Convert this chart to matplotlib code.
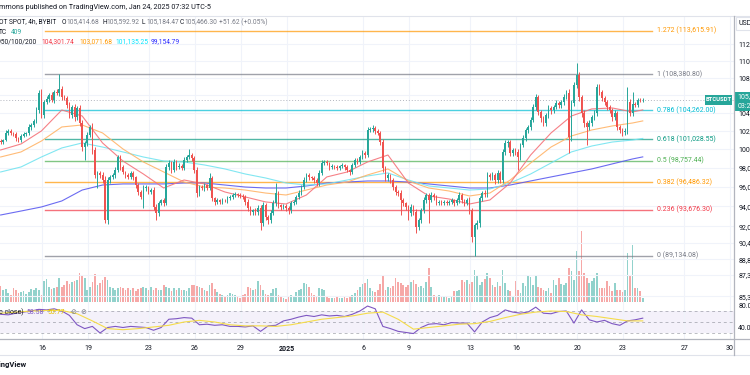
import numpy as np
import pandas as pd
import matplotlib
matplotlib.use("Agg")
import matplotlib.pyplot as plt
import matplotlib.dates as mdates
from matplotlib.ticker import NullLocator, NullFormatter
from matplotlib.patches import Rectangle

plt.rcParams["font.family"] = ["Roboto", "DejaVu Sans"]

# ---------------- data (BTCUSDT spot, 4h, Bybit) ----------------
first_open = 100.90  # thousand USD
close_k = [
    100.75, 100.97, 101.74, 101.96, 101.74, 101.63, 101.19, 100.97, 101.41, 101.63,
    101.74, 102.40, 102.62, 103.06, 104.29, 106.22, 103.73, 105.19, 105.53, 105.99,
    105.42, 106.33, 106.22, 106.68, 105.76, 105.65, 104.86, 103.73, 104.63, 103.51,
    104.52, 102.84, 100.21, 100.65, 101.52, 102.40, 99.89, 97.24, 97.45, 97.24,
    96.71, 92.63, 96.71, 97.03, 97.24, 97.76, 99.14, 98.08, 97.55, 97.24,
    97.03, 97.45, 97.03, 96.19, 95.47, 94.96, 95.88, 95.98, 95.47, 95.67,
    93.94, 93.33, 94.34, 94.65, 94.34, 98.08, 98.50, 97.76, 98.61, 98.08,
    98.20, 98.00, 98.82, 99.14, 99.35, 99.03, 97.76, 95.36, 95.98, 95.88,
    96.19, 95.88, 96.92, 94.85, 94.45, 94.65, 94.45, 94.65, 94.60, 94.85,
    94.96, 95.16, 95.26, 95.16, 95.10, 94.96, 94.45, 93.84, 93.43, 93.63,
    93.43, 93.84, 92.33, 94.14, 92.93, 92.63, 93.33, 94.34, 95.36, 94.14,
    93.94, 94.05, 93.84, 93.63, 94.34, 94.45, 94.96, 95.36, 95.98, 96.71,
    97.24, 97.03, 96.92, 96.71, 96.40, 97.45, 98.50, 98.61, 98.50, 98.08,
    98.18, 98.08, 97.97, 98.18, 98.29, 98.08, 97.76, 97.55, 98.29, 98.82,
    98.61, 99.14, 99.57, 99.35, 102.07, 102.15, 102.29, 101.96, 101.74, 100.75,
    97.97, 96.92, 97.24, 96.71, 95.98, 95.47, 95.40, 94.65, 94.34, 93.94,
    93.33, 93.94, 93.43, 91.94, 92.63, 93.63, 94.65, 95.16, 94.65, 95.16,
    94.96, 94.34, 94.45, 94.34, 94.45, 94.34, 94.45, 94.65, 94.34, 94.65,
    95.16, 94.65, 94.34, 94.65, 93.63, 90.95, 92.13, 92.33, 94.85, 95.36,
    95.30, 97.24, 97.03, 97.24, 96.71, 97.45, 96.71, 99.68, 100.65, 100.75,
    99.57, 99.89, 99.68, 99.14, 100.43, 101.19, 102.07, 102.40, 103.17, 104.63,
    105.76, 104.07, 103.39, 102.84, 103.73, 104.52, 104.29, 104.63, 105.08, 104.86,
    105.19, 105.76, 106.22, 101.30, 105.08, 107.14, 108.30, 105.76, 103.95, 102.84,
    102.40, 102.84, 103.51, 103.95, 106.91, 106.33, 105.65, 105.19, 104.63, 104.29,
    103.51, 103.95, 102.40, 102.07, 101.85, 101.96, 105.19, 103.95, 105.00, 104.90,
    105.42, 105.415, 105.466,
]
hi_wick = [
    0.2, 0.15, 0.3, 0.25, 0.2, 0.15, 0.2, 0.1, 0.25, 0.2,
    0.15, 0.3, 0.2, 0.25, 0.3, 0.3, 0.45, 0.2, 0.3, 0.25,
    0.35, 0.2, 0.3, 1.70, 0.3, 0.25, 0.2, 0.3, 0.25, 0.3,
    0.2, 0.35, 0.3, 0.25, 0.3, 0.2, 0.4, 0.3, 0.25, 0.2,
    0.3, 0.4, 0.35, 0.25, 0.2, 0.3, 0.21, 0.25, 0.2, 0.15,
    0.2, 0.25, 0.2, 0.15, 0.2, 0.25, 0.3, 0.2, 0.15, 0.25,
    0.3, 0.25, 0.2, 0.15, 0.2, 0.35, 0.3, 0.25, 0.3, 0.2,
    0.25, 0.2, 0.3, 0.25, 0.65, 0.2, 0.25, 0.3, 0.2, 0.25,
    0.2, 0.15, 0.53, 0.2, 0.15, 0.2, 0.15, 0.2, 0.15, 0.2,
    0.15, 0.2, 0.25, 0.15, 0.2, 0.15, 0.2, 0.25, 0.2, 0.15,
    0.2, 0.25, 0.3, 0.35, 0.2, 0.25, 0.3, 0.35, 1.04, 0.2,
    0.15, 0.2, 0.15, 0.2, 0.25, 0.2, 0.25, 0.3, 0.25, 0.3,
    0.25, 0.2, 0.15, 0.2, 0.25, 0.3, 0.35, 0.25, 0.2, 0.15,
    0.2, 0.15, 0.2, 0.15, 0.2, 0.15, 0.2, 0.15, 0.25, 0.2,
    0.2, 0.25, 0.3, 0.2, 0.3, 0.25, 0.33, 0.2, 0.25, 0.2,
    0.3, 0.25, 0.2, 0.15, 0.2, 0.25, 0.2, 0.25, 0.2, 0.15,
    0.2, 0.25, 0.2, 0.3, 0.2, 0.25, 0.3, 0.25, 0.2, 0.3,
    0.2, 0.15, 0.2, 0.15, 0.2, 0.15, 0.2, 0.25, 0.15, 0.2,
    0.3, 0.2, 0.15, 0.2, 0.3, 0.2, 0.25, 0.3, 0.25, 0.2,
    0.3, 0.35, 0.25, 0.3, 0.2, 0.3, 0.2, 0.35, 0.3, 0.25,
    0.2, 0.25, 0.2, 0.3, 0.25, 0.3, 0.2, 0.25, 0.3, 0.35,
    0.3, 0.2, 0.25, 0.2, 0.25, 0.3, 0.2, 0.25, 0.3, 0.2,
    0.25, 0.3, 0.35, 0.4, 0.3, 0.4, 1.46, 0.3, 0.25, 0.3,
    0.2, 0.3, 0.25, 0.3, 0.35, 0.3, 0.25, 0.2, 0.25, 0.2,
    0.25, 0.3, 0.2, 0.25, 0.2, 0.3, 1.72, 0.3, 1.33, 0.2,
    0.25, 0.18, 0.127,
]
lo_wick = [
    0.2, 0.25, 0.15, 0.2, 0.25, 0.2, 0.3, 0.25, 0.2, 0.15,
    0.2, 0.25, 0.3, 0.2, 0.25, 0.3, 0.35, 0.3, 0.25, 0.3,
    0.25, 0.3, 0.2, 0.3, 0.35, 0.25, 0.3, 0.35, 0.3, 0.4,
    0.3, 0.35, 0.4, 1.39, 0.3, 0.25, 0.4, 0.35, 1.34, 0.3,
    0.3, 0.30, 0.35, 0.3, 0.25, 0.3, 0.25, 0.3, 0.25, 0.3,
    0.25, 0.2, 0.3, 0.35, 0.3, 0.25, 1.16, 0.3, 0.25, 0.2,
    0.35, 0.70, 0.3, 0.25, 0.3, 0.25, 0.3, 0.35, 0.25, 0.3,
    0.25, 0.2, 0.25, 0.2, 0.25, 0.3, 0.35, 0.4, 0.3, 0.25,
    0.3, 0.25, 0.2, 0.35, 0.3, 0.25, 0.2, 0.25, 0.2, 0.25,
    0.2, 0.25, 0.2, 0.25, 0.2, 0.25, 0.3, 0.35, 0.3, 0.25,
    0.3, 0.25, 0.69, 0.3, 0.35, 0.4, 0.3, 0.25, 0.3, 0.35,
    0.3, 0.25, 0.3, 0.35, 0.25, 0.2, 0.25, 0.2, 0.25, 0.2,
    0.25, 0.3, 0.25, 0.3, 0.35, 0.3, 0.25, 0.2, 0.25, 0.3,
    0.25, 0.2, 0.25, 0.2, 0.25, 0.3, 0.25, 0.3, 0.25, 0.2,
    0.25, 0.2, 0.25, 0.3, 0.25, 0.2, 0.25, 0.3, 0.25, 0.35,
    0.4, 0.35, 0.3, 0.35, 0.3, 0.35, 0.3, 1.5, 0.35, 0.3,
    0.7, 0.35, 0.3, 0.6, 0.35, 0.3, 0.25, 0.3, 2.32, 0.25,
    0.3, 0.25, 0.2, 0.25, 0.2, 0.25, 0.2, 0.25, 0.3, 0.25,
    0.3, 0.35, 0.3, 0.25, 0.4, 0.5, 1.816, 0.4, 0.35, 0.3,
    0.35, 0.3, 0.35, 0.3, 0.4, 0.3, 0.35, 0.3, 0.35, 0.4,
    0.3, 0.35, 0.3, 1.38, 0.3, 0.25, 0.3, 0.35, 0.3, 0.25,
    0.3, 0.35, 0.4, 0.3, 0.35, 0.3, 0.4, 0.3, 0.25, 0.3,
    0.35, 0.3, 0.25, 1.73, 0.4, 0.35, 0.3, 0.45, 0.5, 0.4,
    1.97, 0.35, 0.3, 0.35, 0.3, 0.35, 0.3, 0.35, 0.3, 0.35,
    0.4, 0.35, 0.3, 0.35, 0.4, 0.3, 0.35, 0.3, 0.35, 0.25,
    0.3, 0.25, 0.23,
]
volume_h = [  # hundreds of BTC
    16, 12, 13, 9, 7, 14, 12, 9, 10, 11,
    8, 10, 13, 12, 14, 12, 7, 21, 23, 15,
    13, 14, 15, 24, 15, 17, 21, 18, 20, 21,
    22, 29, 26, 24, 12, 15, 20, 28, 17, 19,
    22, 25, 22, 15, 14, 12, 14, 15, 14, 12,
    14, 12, 14, 11, 13, 14, 15, 14, 12, 15,
    12, 14, 12, 12, 17, 15, 14, 11, 14, 12,
    14, 12, 12, 11, 14, 17, 17, 16, 15, 14,
    12, 11, 17, 19, 13, 10, 8, 7, 6, 7,
    9, 8, 7, 6, 4, 7, 8, 15, 14, 12,
    13, 21, 17, 12, 8, 7, 9, 13, 14, 7,
    6, 4, 3, 6, 7, 6, 10, 12, 13, 19,
    18, 15, 9, 7, 6, 14, 13, 12, 6, 4,
    4, 4, 5, 4, 4, 5, 4, 5, 7, 9,
    12, 15, 18, 19, 23, 14, 11, 10, 12, 18,
    27, 12, 15, 14, 16, 24, 20, 19, 17, 15,
    17, 20, 22, 18, 15, 16, 14, 20, 34, 15,
    7, 6, 7, 6, 6, 5, 4, 6, 11, 11,
    12, 22, 20, 22, 18, 20, 32, 26, 17, 20,
    23, 29, 24, 17, 15, 20, 16, 32, 19, 12,
    11, 6, 21, 12, 9, 19, 16, 27, 25, 17,
    27, 15, 14, 12, 11, 14, 9, 22, 17, 24,
    18, 17, 19, 34, 31, 22, 51, 31, 71, 29,
    24, 19, 21, 24, 29, 14, 14, 14, 21, 16,
    11, 19, 12, 12, 10, 12, 49, 27, 57, 14,
    14, 11, 4.09,
]
# moving averages, one reading every 8 candles plus the last candle
ma20 = [99.89, 100.54, 101.96, 104.29, 103.62, 100.65, 98.71, 97.34, 95.88, 96.71,
        96.30, 95.47, 94.96, 94.45, 94.24, 95.16, 97.03, 97.55, 98.61, 99.35,
        96.40, 95.06, 94.75, 94.24, 94.65, 96.40, 99.35, 101.74, 103.62, 104.41,
        104.52, 104.07, 104.30]
ma50 = [99.14, 99.68, 100.86, 102.40, 102.62, 101.74, 100.00, 98.61, 97.55, 96.50,
        95.98, 95.88, 95.67, 95.36, 95.16, 95.67, 96.19, 96.50, 97.24, 97.87,
        96.61, 95.88, 95.57, 95.06, 95.36, 96.71, 98.50, 100.21, 101.41, 102.07,
        102.51, 102.84, 103.07]
ma100 = [97.55, 98.08, 99.14, 100.11, 100.65, 100.21, 99.68, 99.14, 98.71, 98.61,
         98.29, 97.87, 97.34, 96.92, 96.40, 96.19, 96.30, 96.71, 97.13, 97.45,
         96.71, 96.09, 95.88, 95.67, 95.78, 96.40, 97.34, 98.50, 99.68, 100.32,
         100.75, 100.97, 101.14]
ma200 = [93.13, 93.53, 93.94, 94.55, 95.67, 96.19, 96.30, 96.30, 96.30, 96.40,
         96.40, 96.19, 95.98, 95.88, 95.88, 96.09, 96.40, 96.50, 96.61, 96.61,
         96.50, 96.30, 96.09, 95.88, 95.88, 96.19, 96.61, 97.03, 97.45, 97.87,
         98.40, 98.93, 99.15]
# RSI every 3 candles, its moving average every 6 candles
rsi = [64, 63, 66, 68, 70, 73, 72, 74, 70, 62,
       45, 38, 42, 30, 40, 42, 40, 42, 41, 40,
       35, 40, 55, 56, 58, 57, 45, 46, 44, 45,
       42, 42, 41, 43, 33, 43, 44, 52, 55, 59,
       62, 60, 63, 61, 62, 60, 64, 70, 79, 74,
       42, 38, 33, 31, 29, 40, 46, 47, 45, 49,
       48, 48, 32, 50, 58, 62, 72, 68, 66, 68,
       77, 66, 65, 69, 70, 48, 72, 54, 50, 53,
       47, 44, 52, 54, 57]
rsi_ma = [66, 68, 70, 71, 71, 65, 52, 38, 36, 38,
          41, 44, 50, 53, 50, 45, 43, 43, 42, 45,
          50, 55, 58, 61, 66, 68, 55, 37, 40, 43,
          46, 47, 51, 58, 64, 68, 70, 69, 63, 60,
          56, 52, 52]

fib_levels = ["1.272", "1", "0.786", "0.618", "0.5", "0.382", "0.236", "0"]
fib_prices = [113615.91, 108380.80, 104262.00, 101028.55, 98757.44, 96486.32, 93676.30, 89134.08]
fib_colors = ["#ff9800", "#787b86", "#00bcd4", "#089981", "#4caf50", "#ff9800", "#f23645", "#787b86"]

price_ticks = [112000, 110000, 108000, 106000, 104000, 102000, 100000, 98000,
               96000, 94000, 92000, 90400, 88800, 87300, 85300]
date_ticks = ["2024-12-16", "2024-12-19", "2024-12-23", "2024-12-26", "2024-12-29",
              "2025-01-01", "2025-01-06", "2025-01-09", "2025-01-13", "2025-01-16",
              "2025-01-20", "2025-01-23", "2025-01-27", "2025-01-30"]
date_labels = ["16", "19", "23", "26", "29", "2025", "6", "9", "13", "16", "20", "23", "27", "30"]

# ---------------- prep ----------------
times = pd.date_range("2024-12-13 07:00", periods=len(close_k), freq="4h")
t = mdates.date2num(times)
closes = np.array(close_k) * 1000
opens = np.r_[first_open, close_k[:-1]] * 1000
highs = np.maximum(opens, closes) + np.array(hi_wick) * 1000
lows = np.minimum(opens, closes) - np.array(lo_wick) * 1000
up = closes >= opens

UP, DOWN = "#26a69a", "#ef5350"
TXT, GREY = "#131722", "#787b86"

W, H = 750, 375
fig = plt.figure(figsize=(W / 100, H / 100), dpi=100)


def box(x0, y0, x1, y1):
    return [x0 / W, 1 - y1 / H, (x1 - x0) / W, (y1 - y0) / H]


def ftext(x, y, s, **kw):
    kw.setdefault("fontsize", 5)
    kw.setdefault("va", "center")
    kw.setdefault("color", TXT)
    return fig.text(x / W, 1 - y / H, s, **kw)


def frect(x0, y0, x1, y1, **kw):
    fig.add_artist(Rectangle((x0 / W, 1 - y1 / H), (x1 - x0) / W, (y1 - y0) / H,
                             transform=fig.transFigure, **kw))


def fline(xs, ys, **kw):
    fig.add_artist(plt.Line2D([x / W for x in xs], [1 - y / H for y in ys],
                              transform=fig.transFigure, **kw))


d16 = mdates.date2num(pd.Timestamp("2024-12-16"))
xlim = (d16 - 2.75, d16 + 45.26)

# volume pane (behind the price pane)
axv = fig.add_axes(box(0, 16, 734, 305))
cols_v = np.where(up, UP, DOWN)
axv.bar(t, np.array(volume_h) * 100, width=0.11, color=cols_v, alpha=0.5, linewidth=0)
axv.set_ylim(-300, 28600)
axv.set_xlim(*xlim)
axv.axis("off")

# price pane
ax = fig.add_axes(box(0, 16, 734, 305))
ax.patch.set_visible(False)
ax.set_yscale("log")
ax.set_ylim(84520, 115410)
ax.set_xlim(*xlim)

cols = np.where(up, UP, DOWN)
ax.vlines(t, lows, highs, colors=cols, linewidth=0.7, zorder=3)
body = np.maximum(np.abs(closes - opens), 40)
ax.bar(t, body, bottom=np.minimum(opens, closes), width=0.105, color=cols,
       linewidth=0, zorder=4)

ma_t = np.r_[t[::8], t[-1]]
for vals, c in [(ma200, "#5b5bf0"), (ma100, "#74e4f0"), (ma50, "#ffb468"), (ma20, "#f5737a")]:
    ax.plot(ma_t, np.array(vals) * 1000, color=c, linewidth=0.8, zorder=2, alpha=0.9)

for lvl, p, c in zip(fib_levels, fib_prices, fib_colors):
    ax.axhline(p, xmin=45 / 734, xmax=652 / 734, color=c, linewidth=1, alpha=0.7, zorder=1)
    ax.text(657 / 734, p, f"{lvl} ({p:,.2f})", transform=ax.get_yaxis_transform(),
            color=c, fontsize=5, va="center", ha="left")

ax.axhline(closes[-1], color="#b2b5be", linewidth=0.7, linestyle=(0, (1, 2)), zorder=1)

ax.yaxis.tick_right()
ax.set_yticks(price_ticks)
ax.set_yticklabels([f"{v:,.2f}" for v in price_ticks])
ax.yaxis.set_minor_locator(NullLocator())
ax.yaxis.set_minor_formatter(NullFormatter())
ax.tick_params(axis="y", length=0, pad=3, labelsize=5, colors=TXT)
ax.tick_params(axis="x", length=0, labelbottom=False)
ax.grid(True, color="#f0f3fa", linewidth=0.8, zorder=0)
ax.set_axisbelow(True)
for s in ax.spines.values():
    s.set_visible(False)

# RSI pane
axr = fig.add_axes(box(0, 305, 734, 339), sharex=ax)
axr.set_ylim(19.1, 80.9)
axr.axhspan(30, 70, color="#7e57c2", alpha=0.08, linewidth=0)
for lv in (70, 50, 30):
    axr.axhline(lv, color=GREY, linewidth=0.7, linestyle=(0, (3, 3)), alpha=0.5)
axr.plot(t[::3], rsi, color="#7e57c2", linewidth=0.8)
axr.plot(t[::6], rsi_ma, color="#f5dc4a", linewidth=0.8)
axr.yaxis.tick_right()
axr.set_yticks([80, 40])
axr.set_yticklabels(["80.00", "40.00"])
axr.set_xticks(mdates.date2num(pd.to_datetime(date_ticks)))
axr.set_xticklabels(date_labels)
for lab in axr.get_xticklabels():
    if lab.get_text() == "2025":
        lab.set_fontweight("bold")
axr.tick_params(axis="y", length=0, pad=3, labelsize=5, colors=TXT)
axr.tick_params(axis="x", length=0, pad=4, labelsize=5, colors=TXT)
axr.grid(True, axis="x", color="#f0f3fa", linewidth=0.8)
axr.set_xlim(*xlim)
for s in axr.spines.values():
    s.set_visible(False)

# frame lines
fline([0, 750], [15.5, 15.5], color="#e0e3eb", linewidth=0.8)
fline([0, 750], [339, 339], color="#b2b5be", linewidth=0.9)
fline([0, 750], [355, 355], color="#e0e3eb", linewidth=0.8)
fline([734, 734], [15.5, 355], color="#b2b5be", linewidth=0.9)

# price tags
frect(705, 95, 732, 104.5, color=UP, linewidth=0)
ftext(718.5, 99.8, "BTCUSDT", color="white", fontsize=4.2, ha="center", fontweight="bold")
frect(735, 92, 752, 111, color=UP, linewidth=0)
ftext(737.5, 97, f"{closes[-1]:,.2f}", color="white", fontsize=5)
ftext(737.5, 106, "03:27:36", color="white", fontsize=5)
frect(736, 17.5, 752, 29.5, facecolor="white", edgecolor="#e0e3eb", linewidth=0.8)
ftext(738.5, 23.5, "USD", fontsize=5)

# header
ftext(-1, 7.5, "mmons published on TradingView.com, Jan 24, 2025 07:32 UTC-5", fontsize=5.2)
ftext(-1, 22, "OT SPOT, 4h, BYBIT", fontsize=4.8)
for x, lab, val in [(62, "O", "105,414.68"), (102, "H", "105,592.92"),
                    (142, "L", "105,184.47"), (180, "C", "105,466.30")]:
    ftext(x, 22, lab, fontsize=4.8)
    ftext(x + 4.3, 22, val, fontsize=4.8, color=GREY)
ftext(219, 22, "+51.62 (+0.05%)", fontsize=4.8, color=GREY)
ftext(-1, 32, "TC", fontsize=4.8)
ftext(11, 32, "409", fontsize=4.8, color=UP)
ftext(-1, 42, "/50/100/200", fontsize=4.8)
for x, s, c in [(41, "104,301.74", "#f23645"), (79, "103,071.68", "#ff9800"),
                (115, "101,135.25", "#00e5ff"), (151, "99,154.79", "#2a2aff")]:
    ftext(x, 42, s, fontsize=4.8, color=c)

# RSI legend
ftext(-1, 312, "c close)", fontsize=5)
ftext(27, 312, "58.58", fontsize=5, color="#7e57c2")
ftext(47, 312, "50.77", fontsize=5, color="#e6c200")
ftext(70, 312, "\u2298", fontsize=5, color=GREY)
ftext(80, 312, "\u2298", fontsize=5, color=GREY)

# footer
ftext(27, 365, "TradingView", fontsize=5.5, fontweight="bold", ha="right")

fig.savefig("out.png", dpi=100)
